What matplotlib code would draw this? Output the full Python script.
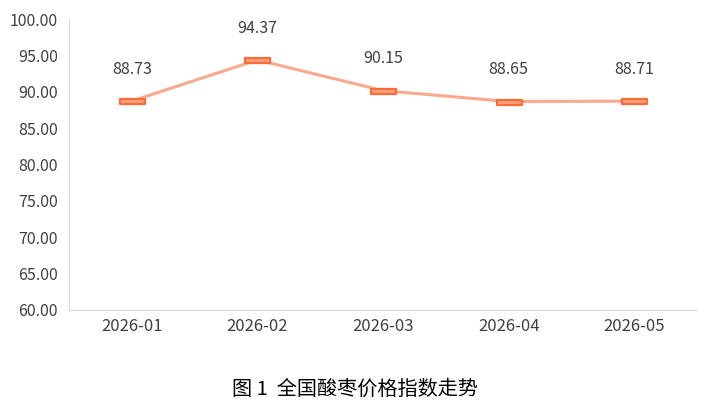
import matplotlib
matplotlib.use("Agg")
import matplotlib.pyplot as plt
from matplotlib.path import Path

plt.rcParams['font.family'] = ['Noto Sans CJK SC', 'DejaVu Sans']

categories = ["2026-01", "2026-02", "2026-03", "2026-04", "2026-05"]
values = [88.73, 94.37, 90.15, 88.65, 88.71]
yticks = [60, 65, 70, 75, 80, 85, 90, 95, 100]
caption = "图 1  全国酸枣价格指数走势"

fig = plt.figure(figsize=(7.09, 4.12), dpi=100)
ax = fig.add_axes([69/709, 102/412, 628/709, 291/412])

rect = Path([(-1, -0.2), (1, -0.2), (1, 0.2), (-1, 0.2), (-1, -0.2)],
            [Path.MOVETO, Path.LINETO, Path.LINETO, Path.LINETO, Path.CLOSEPOLY])

x = list(range(len(categories)))
ax.plot(x, values, color='#F9AA8E', lw=2.2, zorder=2)
ax.plot(x, values, linestyle='none', marker=rect, markersize=18,
        markerfacecolor='#F9A182', markeredgecolor='#FF6B35', markeredgewidth=1.6, zorder=3)

for xi, v in zip(x, values):
    ax.annotate(f"{v:.2f}", (xi, v), xytext=(0, 23), textcoords='offset points',
                ha='center', va='center', fontsize=11.5, color='#404040')

ax.set_xlim(-0.5, len(categories) - 0.5)
ax.set_ylim(60, 100)
ax.set_yticks(yticks)
ax.set_yticklabels([f"{t:.2f}" for t in yticks])
ax.set_xticks(x)
ax.set_xticklabels(categories)
ax.tick_params(axis='both', length=0, labelcolor='#404040')
ax.tick_params(axis='y', pad=8, labelsize=11.5)
ax.tick_params(axis='x', pad=6, labelsize=12)
for s in ['top', 'right']:
    ax.spines[s].set_visible(False)
for s in ['left', 'bottom']:
    ax.spines[s].set_color('#D9D9D9')
    ax.spines[s].set_linewidth(0.8)

fig.text(355/709, 1 - 389/412, caption, ha='center', va='center', fontsize=14.5, color='#000000')

fig.savefig("out.png", dpi=100)
